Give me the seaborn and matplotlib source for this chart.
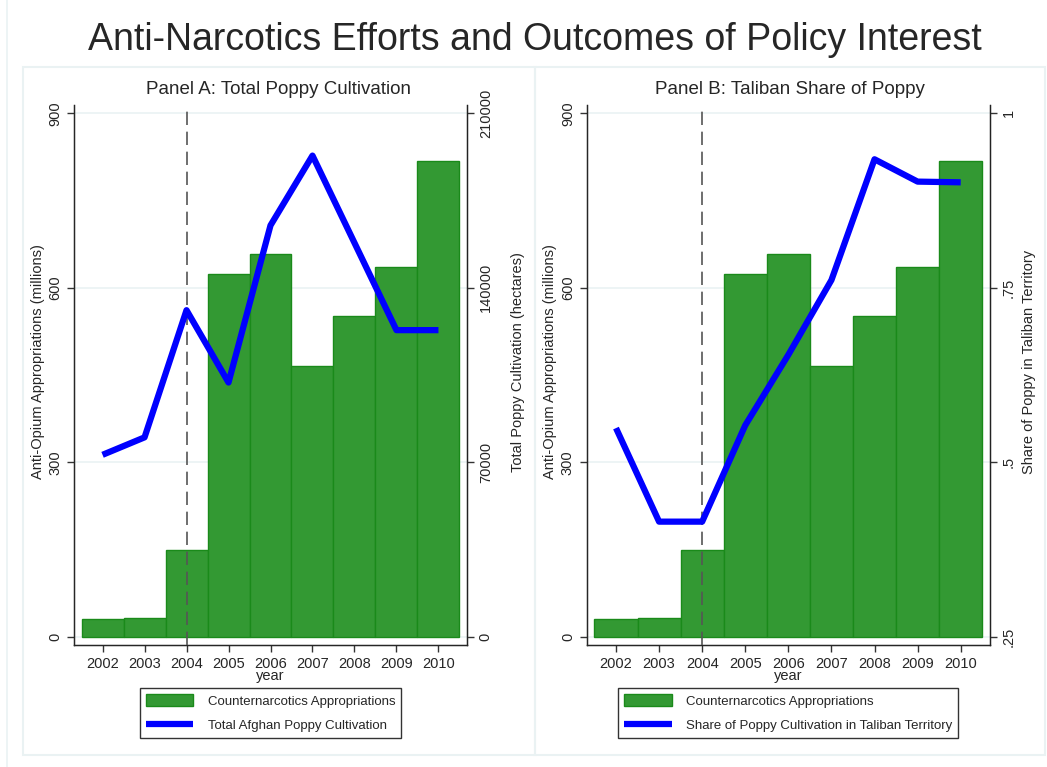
import pandas as pd
import matplotlib
matplotlib.use("Agg")
import matplotlib.pyplot as plt
from matplotlib.patches import Patch, Rectangle
from matplotlib.lines import Line2D
import seaborn as sns

# data
years = [2002, 2003, 2004, 2005, 2006, 2007, 2008, 2009, 2010]
appropriations = [30, 32, 150, 623, 658, 465, 551, 636, 817]          # millions
cultivation = [73000, 80000, 131000, 102000, 165000, 193000, 158000, 123000, 123000]  # hectares
taliban_share = [0.549, 0.415, 0.415, 0.553, 0.654, 0.761, 0.934, 0.902, 0.901]

left_ticks = [0, 300, 600, 900]
cult_ticks = [0, 70000, 140000, 210000]
cult_ticklabels = ["0", "70000", "140000", "210000"]
share_ticks = [0.25, 0.5, 0.75, 1.0]
share_ticklabels = [".25", ".5", ".75", "1"]

sns.set_style("white")
plt.rcParams["font.family"] = ["Liberation Sans", "DejaVu Sans"]

df = pd.DataFrame({"year": years, "approp": appropriations,
                   "cult": cultivation, "share": taliban_share})

W, H = 1047, 767
fig = plt.figure(figsize=(W / 100, H / 100), dpi=100)

grid_col = "#eaf2f3"
bar_col = "#339933"
line_col = "#0000ff"

# stata style panel frames
fig.add_artist(Line2D([7 / W, 7 / W], [0, 1], color=grid_col, lw=1.2))
for x0, x1 in [(23, 535), (535, 1045)]:
    fig.add_artist(Rectangle((x0 / W, 1 - 755 / H), (x1 - x0) / W, (755 - 67) / H,
                             fill=False, ec=grid_col, lw=1.5))

fig.text(535 / W, 1 - 40 / H, "Anti-Narcotics Efforts and Outcomes of Policy Interest",
         ha="center", va="center", fontsize=27)

ylo, yhi = -14, 914.6


def panel(px0, px1, ycol, r0, r1, rticks, rlabels, rtitle, title, title_x,
          line_label, rlab_x):
    ax = fig.add_axes([px0 / W, 1 - 645 / H, (px1 - px0) / W, (645 - 104.7) / H])
    sns.barplot(data=df, x="year", y="approp", native_scale=True, width=1,
                color=bar_col, saturation=1, edgecolor="#1a8a1a", linewidth=1,
                ax=ax, zorder=2)
    ax.axvline(2004, color="#555555", lw=1.2, ls=(0, (8, 4)), zorder=3)
    ax.set_xlim(2001.32, 2010.68)
    ax.set_ylim(ylo, yhi)
    ax.set_yticks(left_ticks)
    ax.set_yticklabels([str(t) for t in left_ticks], rotation=90, va="center")
    ax.set_xticks(years)
    ax.set_xticklabels([str(y) for y in years])
    ax.tick_params(axis="both", direction="out", length=5, width=1, labelsize=10.5,
                   color="#333333", left=True, bottom=True)
    ax.grid(axis="y", color=grid_col, lw=1.2, zorder=0)
    ax.set_axisbelow(True)
    ax.set_xlabel("year", fontsize=10.5, labelpad=-1)
    ax.set_ylabel("Anti-Opium Appropriations (millions)", fontsize=10.5)
    ax.yaxis.set_label_coords(-0.074, 0.524)
    for s in ["left", "bottom", "right"]:
        ax.spines[s].set_color("#222222")
        ax.spines[s].set_linewidth(1)
    ax.spines["top"].set_visible(False)
    # panel titles are centred on the panel frame, not the plot area
    fig.text(title_x / W, 1 - 90 / H, title, ha="center", va="center", fontsize=13.5)

    ax2 = ax.twinx()
    sns.lineplot(data=df, x="year", y=ycol, color=line_col, lw=4.5, ax=ax2,
                 solid_capstyle="butt", zorder=4)
    ax2.set_ylim(r0 + ylo / 900 * (r1 - r0), r0 + yhi / 900 * (r1 - r0))
    ax2.set_yticks(rticks)
    ax2.set_yticklabels(rlabels, rotation=90, va="center")
    ax2.tick_params(axis="y", direction="out", length=5, width=1, labelsize=10.5,
                    color="#333333", right=True)
    ax2.set_ylabel(rtitle, fontsize=10.5)
    ax2.yaxis.set_label_coords(rlab_x, 0.524)
    ax2.spines["top"].set_visible(False)
    ax2.spines["right"].set_color("#222222")
    ax2.grid(False)
    ax2.set_xlim(2001.32, 2010.68)

    handles = [Patch(facecolor=bar_col, edgecolor="#1a8a1a", lw=1),
               Line2D([0], [0], color=line_col, lw=4.5, solid_capstyle="butt")]
    labels = ["Counternarcotics Appropriations", line_label]
    cx = (px0 + px1) / 2 / W
    leg = fig.legend(handles, labels, loc="center", bbox_to_anchor=(cx, 1 - 713 / H),
                     bbox_transform=fig.transFigure, fontsize=9.5, frameon=True,
                     fancybox=False, edgecolor="black", handlelength=3.6,
                     handleheight=1.05, handletextpad=1.1, labelspacing=0.8,
                     borderpad=0.45, borderaxespad=0)
    leg.get_frame().set_linewidth(1)
    return ax, ax2


panel(74, 467, "cult", 0, 210000, cult_ticks, cult_ticklabels,
      "Total Poppy Cultivation (hectares)", "Panel A: Total Poppy Cultivation", 279,
      "Total Afghan Poppy Cultivation", 1.112)
panel(586.7, 990, "share", 0.25, 1.0, share_ticks, share_ticklabels,
      "Share of Poppy in Taliban Territory", "Panel B: Taliban Share of Poppy", 790,
      "Share of Poppy Cultivation in Taliban Territory", 1.079)

fig.savefig("out.png", dpi=100, facecolor="white")
